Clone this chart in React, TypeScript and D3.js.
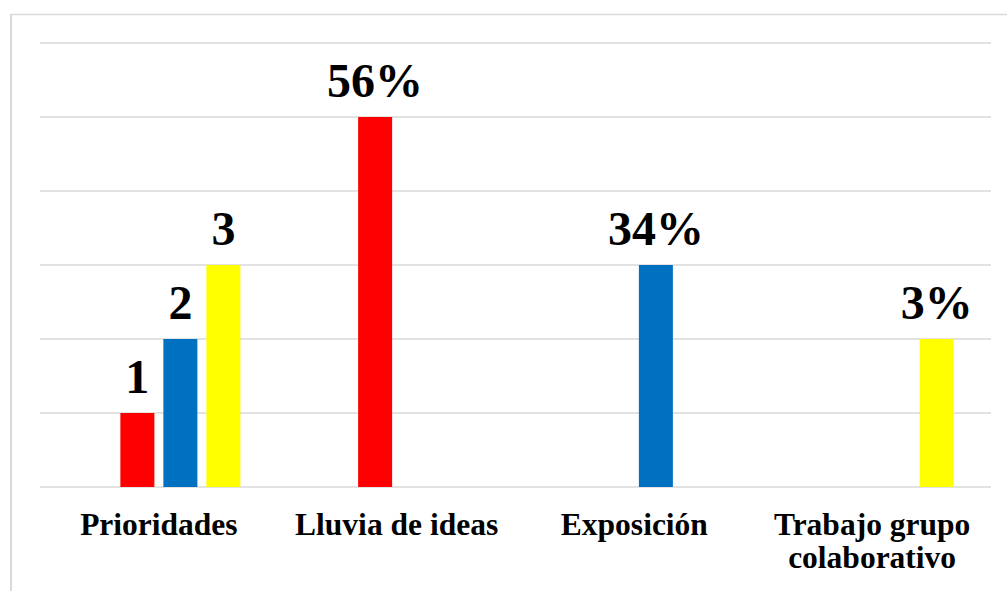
import React from "react";
import * as d3 from "d3";

const categories = ["Prioridades", "Lluvia de ideas", "Exposición", "Trabajo grupo\ncolaborativo"];
const seriesKeys = ["vacía", "rojo", "azul", "amarillo"];
const seriesColors = ["none", "#ff0000", "#0070c0", "#ffff00"];
const valuesEmpty = [0, 0, 0, 0];
const valuesRed = [1, 5, 0, 0];
const valuesBlue = [2, 0, 3, 0];
const valuesYellow = [3, 0, 0, 2];
const labelsRed = ["1", "56%", "", ""];
const labelsBlue = ["2", "", "34%", ""];
const labelsYellow = ["3", "", "", "3%"];
const yTicks = [0, 1, 2, 3, 4, 5, 6];

const W = 1007;
const H = 591;
const FONT = "Liberation Serif, Times New Roman, DejaVu Serif, serif";

export default function App() {
  const seriesValues = [valuesEmpty, valuesRed, valuesBlue, valuesYellow];
  const seriesLabels = [["", "", "", ""], labelsRed, labelsBlue, labelsYellow];

  const x0 = d3.scaleBand<string>().domain(categories).range([40, 991]).padding(0);
  const x1 = d3
    .scaleBand<string>()
    .domain(seriesKeys)
    .range([0, x0.bandwidth()])
    .paddingInner(9 / 43)
    .paddingOuter(0.869);
  const y = d3.scaleLinear().domain([0, 6]).range([487, 43]);

  const textStyle = { fontFamily: FONT, fontWeight: 700 } as React.CSSProperties;

  return (
    <svg
      width={W}
      height={H}
      style={{ position: "absolute", left: 0, top: 0, background: "#fff", fontFamily: FONT }}
    >
      <rect x={0} y={0} width={W} height={H} fill="#fff" />
      <line x1={10} x2={W} y1={14.5} y2={14.5} stroke="#d9d9d9" strokeWidth={1.5} />
      <line x1={11} x2={11} y1={14} y2={H} stroke="#d9d9d9" strokeWidth={2} />
      {yTicks.map((t) => (
        <line
          key={t}
          x1={40}
          x2={991}
          y1={y(t)}
          y2={y(t)}
          stroke="#d9d9d9"
          strokeWidth={1.5}
        />
      ))}
      {categories.map((cat, ci) =>
        seriesKeys.map((s, si) => {
          const v = seriesValues[si][ci];
          if (!v || seriesColors[si] === "none") return null;
          const bx = (x0(cat) ?? 0) + (x1(s) ?? 0);
          return (
            <rect
              key={cat + s}
              x={bx}
              y={y(v)}
              width={x1.bandwidth()}
              height={y(0) - y(v)}
              fill={seriesColors[si]}
            />
          );
        })
      )}
      {categories.map((cat, ci) =>
        seriesKeys.map((s, si) => {
          const v = seriesValues[si][ci];
          const lab = seriesLabels[si][ci];
          if (!v || !lab) return null;
          const cx = (x0(cat) ?? 0) + (x1(s) ?? 0) + x1.bandwidth() / 2;
          return (
            <text
              key={"l" + cat + s}
              x={cx}
              y={y(v) - 20}
              textAnchor="middle"
              style={{ ...textStyle, fontSize: 48 }}
              fill="#000"
            >
              {lab}
            </text>
          );
        })
      )}
      {categories.map((cat) => {
        const cx = (x0(cat) ?? 0) + x0.bandwidth() / 2;
        const lines = cat.split("\n");
        return (
          <text
            key={"c" + cat}
            textAnchor="middle"
            style={{ ...textStyle, fontSize: 31.5 }}
            fill="#000"
          >
            {lines.map((ln, i) => (
              <tspan key={i} x={cx} y={535 + i * 33}>
                {ln}
              </tspan>
            ))}
          </text>
        );
      })}
    </svg>
  );
}
